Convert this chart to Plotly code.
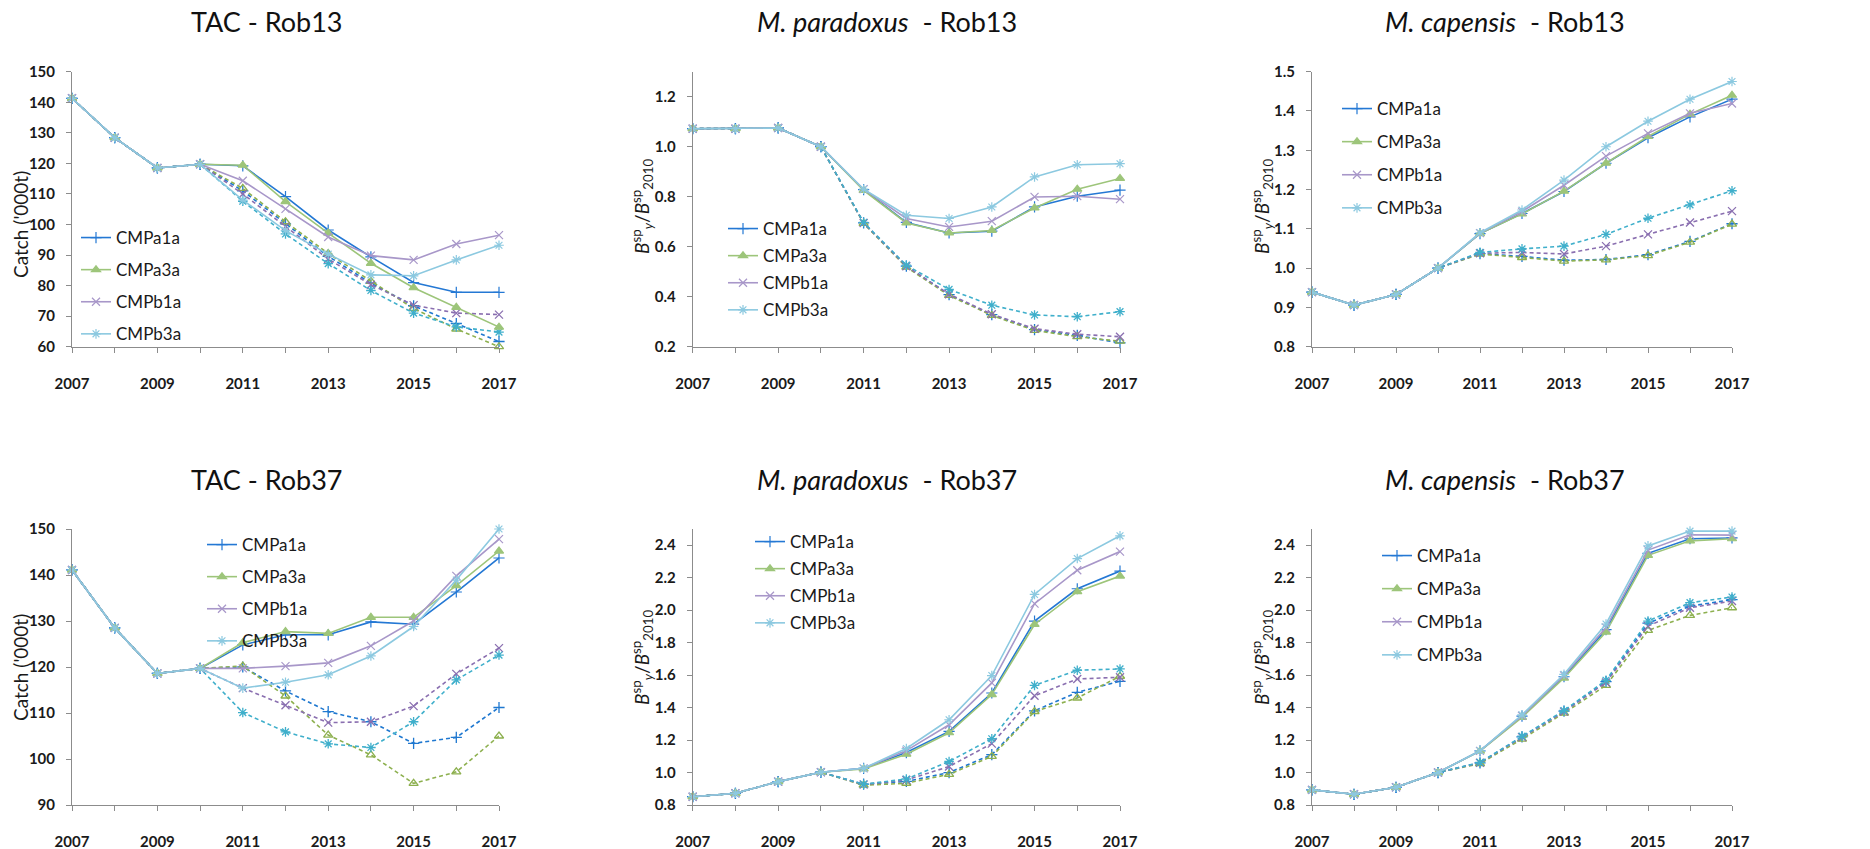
import plotly.graph_objects as go

years = list(range(2007, 2018))
xtick_vals = list(range(2007, 2018))
xtick_text = [str(y) if y % 2 == 1 else "" for y in xtick_vals]
series_names = ["CMPa1a", "CMPa3a", "CMPb1a", "CMPb3a"]

# ---- TAC Rob13 ----
tac13_a1a = [141.3, 128.4, 118.5, 119.7, 119.2, 109.1, 98.2, 89.4, 81.0, 77.8, 77.8]
tac13_a3a = [141.3, 128.4, 118.5, 119.7, 119.4, 107.5, 97.2, 87.3, 79.3, 72.9, 66.4]
tac13_b1a = [141.3, 128.4, 118.5, 119.7, 114.3, 105.1, 95.9, 89.8, 88.4, 93.6, 96.5]
tac13_b3a = [141.3, 128.4, 118.5, 119.7, 108.0, 98.0, 90.3, 83.5, 83.2, 88.4, 93.2]
tac13_a1a_d = [141.3, 128.4, 118.5, 119.7, 111.0, 100.2, 89.6, 80.8, 73.4, 67.6, 61.7]
tac13_a3a_d = [141.3, 128.4, 118.5, 119.7, 111.8, 100.9, 90.5, 81.4, 72.5, 65.8, 60.0]
tac13_b1a_d = [141.3, 128.4, 118.5, 119.7, 110.0, 99.3, 88.7, 80.3, 73.6, 71.0, 70.5]
tac13_b3a_d = [141.3, 128.4, 118.5, 119.7, 107.6, 96.9, 87.2, 78.4, 71.0, 66.5, 64.8]

# ---- M. paradoxus Rob13 ----
par13_a1a = [1.072, 1.072, 1.075, 1.0, 0.828, 0.697, 0.655, 0.662, 0.759, 0.802, 0.826]
par13_a3a = [1.072, 1.072, 1.075, 1.0, 0.825, 0.695, 0.655, 0.665, 0.755, 0.830, 0.873]
par13_b1a = [1.072, 1.072, 1.075, 1.0, 0.830, 0.713, 0.679, 0.702, 0.799, 0.802, 0.790]
par13_b3a = [1.072, 1.072, 1.075, 1.0, 0.830, 0.726, 0.713, 0.759, 0.879, 0.928, 0.932]
par13_a1a_d = [1.072, 1.072, 1.075, 1.0, 0.695, 0.522, 0.408, 0.328, 0.268, 0.245, 0.215]
par13_a3a_d = [1.072, 1.072, 1.075, 1.0, 0.693, 0.518, 0.405, 0.325, 0.265, 0.240, 0.222]
par13_b1a_d = [1.072, 1.072, 1.075, 1.0, 0.695, 0.522, 0.410, 0.330, 0.272, 0.250, 0.240]
par13_b3a_d = [1.072, 1.072, 1.075, 1.0, 0.697, 0.526, 0.429, 0.366, 0.327, 0.320, 0.340]

# ---- M. capensis Rob13 ----
cap13_a1a = [0.939, 0.906, 0.933, 1.0, 1.088, 1.139, 1.195, 1.267, 1.332, 1.385, 1.430]
cap13_a3a = [0.939, 0.906, 0.933, 1.0, 1.088, 1.138, 1.196, 1.267, 1.335, 1.392, 1.440]
cap13_b1a = [0.939, 0.906, 0.933, 1.0, 1.089, 1.144, 1.211, 1.285, 1.343, 1.394, 1.419]
cap13_b3a = [0.939, 0.906, 0.933, 1.0, 1.090, 1.148, 1.224, 1.309, 1.374, 1.430, 1.475]
cap13_a1a_d = [0.939, 0.906, 0.933, 1.0, 1.037, 1.030, 1.020, 1.022, 1.034, 1.068, 1.113]
cap13_a3a_d = [0.939, 0.906, 0.933, 1.0, 1.036, 1.027, 1.018, 1.021, 1.032, 1.066, 1.112]
cap13_b1a_d = [0.939, 0.906, 0.933, 1.0, 1.038, 1.040, 1.036, 1.056, 1.086, 1.116, 1.145]
cap13_b3a_d = [0.939, 0.906, 0.933, 1.0, 1.040, 1.049, 1.056, 1.086, 1.127, 1.161, 1.197]

# ---- TAC Rob37 ----
tac37_a1a = [141.1, 128.5, 118.6, 119.7, 124.8, 127.0, 127.0, 129.8, 129.3, 136.3, 143.7]
tac37_a3a = [141.1, 128.5, 118.6, 119.7, 125.3, 127.7, 127.3, 130.8, 130.8, 137.7, 145.2]
tac37_b1a = [141.1, 128.5, 118.6, 119.7, 119.7, 120.2, 120.9, 124.6, 130.0, 139.8, 147.8]
tac37_b3a = [141.1, 128.5, 118.6, 119.7, 115.4, 116.7, 118.3, 122.4, 128.8, 138.9, 150.0]
tac37_a1a_d = [141.1, 128.5, 118.6, 119.7, 120.0, 114.8, 110.3, 108.1, 103.4, 104.7, 111.2]
tac37_a3a_d = [141.1, 128.5, 118.6, 119.7, 120.2, 113.7, 105.2, 100.9, 94.7, 97.2, 105.0]
tac37_b1a_d = [141.1, 128.5, 118.6, 119.7, 115.4, 111.7, 107.9, 108.1, 111.5, 118.5, 124.1]
tac37_b3a_d = [141.1, 128.5, 118.6, 119.7, 110.1, 105.9, 103.3, 102.5, 108.1, 117.2, 122.6]

# ---- M. paradoxus Rob37 ----
par37_a1a = [0.851, 0.872, 0.944, 1.002, 1.026, 1.123, 1.253, 1.490, 1.933, 2.132, 2.241]
par37_a3a = [0.851, 0.872, 0.944, 1.002, 1.022, 1.113, 1.245, 1.480, 1.912, 2.114, 2.210]
par37_b1a = [0.851, 0.872, 0.944, 1.002, 1.026, 1.135, 1.294, 1.552, 2.040, 2.246, 2.361]
par37_b3a = [0.851, 0.872, 0.944, 1.002, 1.026, 1.148, 1.325, 1.597, 2.097, 2.318, 2.458]
par37_a1a_d = [0.851, 0.872, 0.944, 1.002, 0.928, 0.945, 1.000, 1.110, 1.380, 1.494, 1.562]
par37_a3a_d = [0.851, 0.872, 0.944, 1.002, 0.922, 0.934, 0.989, 1.099, 1.376, 1.459, 1.593]
par37_b1a_d = [0.851, 0.872, 0.944, 1.002, 0.926, 0.954, 1.037, 1.178, 1.473, 1.576, 1.587]
par37_b3a_d = [0.851, 0.872, 0.944, 1.002, 0.928, 0.960, 1.068, 1.208, 1.537, 1.630, 1.638]

# ---- M. capensis Rob37 ----
cap37_a1a = [0.893, 0.866, 0.909, 1.0, 1.133, 1.348, 1.590, 1.880, 2.350, 2.440, 2.445]
cap37_a3a = [0.893, 0.866, 0.909, 1.0, 1.132, 1.340, 1.582, 1.865, 2.338, 2.427, 2.440]
cap37_b1a = [0.893, 0.866, 0.909, 1.0, 1.133, 1.350, 1.598, 1.893, 2.370, 2.465, 2.462]
cap37_b3a = [0.893, 0.866, 0.909, 1.0, 1.134, 1.355, 1.605, 1.915, 2.396, 2.487, 2.487]
cap37_a1a_d = [0.893, 0.866, 0.909, 1.0, 1.060, 1.220, 1.378, 1.560, 1.920, 2.025, 2.065]
cap37_a3a_d = [0.893, 0.866, 0.909, 1.0, 1.055, 1.206, 1.366, 1.537, 1.875, 1.968, 2.015]
cap37_b1a_d = [0.893, 0.866, 0.909, 1.0, 1.060, 1.218, 1.375, 1.555, 1.902, 2.015, 2.056]
cap37_b3a_d = [0.893, 0.866, 0.909, 1.0, 1.062, 1.224, 1.382, 1.568, 1.933, 2.046, 2.081]

panel_titles = ["TAC - Rob13", "<i>M. paradoxus</i>  - Rob13", "<i>M. capensis</i>  - Rob13",
                "TAC - Rob37", "<i>M. paradoxus</i>  - Rob37", "<i>M. capensis</i>  - Rob37"]
catch_title = "Catch ('000t)"
ratio_title = "<i>B</i><sup>sp</sup><sub><i>y</i></sub>/<i>B</i><sup>sp</sup><sub>2010</sub>"

W, H = 1870, 849
FONT = "Lato"

solid_colors = ["#2478D4", "#9DC57A", "#A897C9", "#8CC9E0"]
dash_colors = ["#1F78D0", "#8DB04F", "#8A6FB0", "#3FAFCB"]
solid_symbols = ["cross-thin", "triangle-up", "x-thin", "asterisk"]
dash_symbols = ["cross-thin", "triangle-up-open", "x-thin", "asterisk"]

panels = [
    dict(solid=[tac13_a1a, tac13_a3a, tac13_b1a, tac13_b3a],
         dashed=[tac13_a1a_d, tac13_a3a_d, tac13_b1a_d, tac13_b3a_d],
         yr=[60, 150], dt=10, t0=60, fmt="d", px=(72, 499), py=(71.7, 346.7), ytitle=catch_title,
         tpos=(267, 22), ypos=(20, 225), leg=(76, 220, 7)),
    dict(solid=[par13_a1a, par13_a3a, par13_b1a, par13_b3a],
         dashed=[par13_a1a_d, par13_a3a_d, par13_b1a_d, par13_b3a_d],
         yr=[0.2, 1.3], dt=0.2, t0=0.2, fmt=".1f", px=(692.7, 1120), py=(71.7, 346.7), ytitle=ratio_title,
         tpos=(887, 22), ypos=(642, 207), leg=(723, 211, 2)),
    dict(solid=[cap13_a1a, cap13_a3a, cap13_b1a, cap13_b3a],
         dashed=[cap13_a1a_d, cap13_a3a_d, cap13_b1a_d, cap13_b3a_d],
         yr=[0.8, 1.5], dt=0.1, t0=0.8, fmt=".1f", px=(1312, 1732), py=(71.7, 346.7), ytitle=ratio_title,
         tpos=(1505, 22), ypos=(1262, 207), leg=(1337, 91, 8)),
    dict(solid=[tac37_a1a, tac37_a3a, tac37_b1a, tac37_b3a],
         dashed=[tac37_a1a_d, tac37_a3a_d, tac37_b1a_d, tac37_b3a_d],
         yr=[90, 150], dt=10, t0=90, fmt="d", px=(72, 499), py=(529, 805), ytitle=catch_title,
         tpos=(267, 479), ypos=(20, 668), leg=(202, 527, 7)),
    dict(solid=[par37_a1a, par37_a3a, par37_b1a, par37_b3a],
         dashed=[par37_a1a_d, par37_a3a_d, par37_b1a_d, par37_b3a_d],
         yr=[0.8, 2.5], dt=0.2, t0=0.8, fmt=".1f", px=(692.7, 1120), py=(529, 805), ytitle=ratio_title,
         tpos=(887, 479), ypos=(642, 658), leg=(750, 524, 2)),
    dict(solid=[cap37_a1a, cap37_a3a, cap37_b1a, cap37_b3a],
         dashed=[cap37_a1a_d, cap37_a3a_d, cap37_b1a_d, cap37_b3a_d],
         yr=[0.8, 2.5], dt=0.2, t0=0.8, fmt=".1f", px=(1312, 1732), py=(529, 805), ytitle=ratio_title,
         tpos=(1505, 479), ypos=(1262, 658), leg=(1377, 538, 8)),
]

fig = go.Figure()
layout = dict(width=W, height=H, margin=dict(l=0, r=0, t=0, b=0, autoexpand=False), autosize=False,
              paper_bgcolor="white", plot_bgcolor="white",
              font=dict(family=FONT, color="#1a1a1a"), annotations=[])

axis_color = "#8c8c8c"
for i, p in enumerate(panels, start=1):
    xa = "x" if i == 1 else f"x{i}"
    ya = "y" if i == 1 else f"y{i}"
    lg = "legend" if i == 1 else f"legend{i}"
    for k in range(4):
        fig.add_trace(go.Scatter(
            x=years, y=p["dashed"][k], xaxis=xa, yaxis=ya, mode="lines+markers",
            line=dict(color=dash_colors[k], width=1.6, dash="4px,3px"),
            marker=dict(symbol=dash_symbols[k], size=8, color=dash_colors[k],
                        line=dict(color=dash_colors[k], width=1.3)),
            showlegend=False, cliponaxis=False, hoverinfo="skip"))
    for k in range(4):
        fig.add_trace(go.Scatter(
            x=years, y=p["solid"][k], xaxis=xa, yaxis=ya, mode="lines+markers",
            name=series_names[k], legend=lg, legendgroup=f"g{i}{k}",
            line=dict(color=solid_colors[k], width=1.6),
            marker=dict(symbol=solid_symbols[k], size=8, color=solid_colors[k],
                        line=dict(color=solid_colors[k], width=1.2)),
            cliponaxis=False))
    x0, x1 = p["px"]
    y0, y1 = p["py"]
    layout["xaxis" if i == 1 else f"xaxis{i}"] = dict(
        domain=[x0 / W, x1 / W], anchor=ya, range=[2007, 2017], automargin=False,
        tickmode="array", tickvals=xtick_vals, ticktext=xtick_text,
        ticks="outside", ticklen=5, tickcolor=axis_color, showline=True, linecolor=axis_color,
        linewidth=1, showgrid=False, zeroline=False, ticklabelstandoff=18,
        tickfont=dict(family=FONT, size=15, weight="bold", color="#1a1a1a"))
    layout["yaxis" if i == 1 else f"yaxis{i}"] = dict(
        domain=[1 - y1 / H, 1 - y0 / H], anchor=xa, range=p["yr"], automargin=False,
        tick0=p["t0"], dtick=p["dt"], tickformat=p["fmt"],
        ticks="outside", ticklen=5, tickcolor=axis_color, showline=True, linecolor=axis_color,
        linewidth=1, showgrid=False, zeroline=False, ticklabelstandoff=8,
        tickfont=dict(family=FONT, size=15, weight="bold", color="#1a1a1a"))
    lx, ly, gap = p["leg"]
    layout[lg] = dict(x=lx / W, y=1 - ly / H, xanchor="left", yanchor="top",
                      bgcolor="rgba(0,0,0,0)", tracegroupgap=gap,
                      font=dict(family=FONT, size=17, color="#1a1a1a"))
    tx, ty = p["tpos"]
    layout["annotations"].append(dict(
        text=panel_titles[i - 1], x=tx / W, y=1 - ty / H, xref="paper", yref="paper",
        xanchor="center", yanchor="middle", showarrow=False,
        font=dict(family=FONT, size=27, color="#111111")))
    yx, yy = p["ypos"]
    layout["annotations"].append(dict(
        text=p["ytitle"], x=yx / W, y=1 - yy / H, xref="paper", yref="paper",
        xanchor="center", yanchor="middle", showarrow=False, textangle=-90,
        font=dict(family=FONT, size=19, color="#1a1a1a")))

fig.update_layout(**layout)
fig.write_html("out.html")
